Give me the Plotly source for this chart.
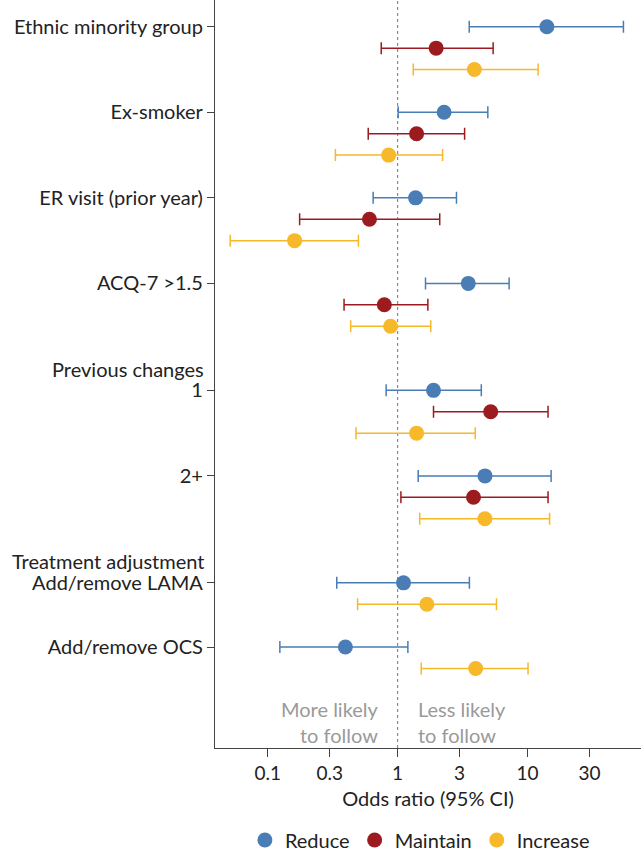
import plotly.graph_objects as go

# ---- data ----
row_labels = ["Ethnic minority group", "Ex-smoker", "ER visit (prior year)", "ACQ-7 >1.5",
              "1", "2+", "Add/remove LAMA", "Add/remove OCS"]
headings = {4: "Previous changes", 6: "Treatment adjustment"}

series_names = ["Reduce", "Maintain", "Increase"]
series_colors = ["#4a7cb6", "#9b1b1f", "#f7b82a"]

reduce_or    = [14.1, 2.28, 1.375, 3.50, 1.89, 4.71, 1.11, 0.396]
reduce_lo    = [3.56, 1.01, 0.648, 1.64, 0.816, 1.44, 0.34, 0.124]
reduce_hi    = [54.8, 4.95, 2.84, 7.22, 4.41, 15.2, 3.57, 1.20]

maintain_or  = [1.98, 1.40, 0.607, 0.79, 5.21, 3.84, None, None]
maintain_lo  = [0.748, 0.594, 0.176, 0.387, 1.89, 1.06, None, None]
maintain_hi  = [5.44, 3.28, 2.11, 1.71, 14.4, 14.4, None, None]

increase_or  = [3.90, 0.853, 0.161, 0.883, 1.40, 4.70, 1.68, 3.99]
increase_lo  = [1.32, 0.332, 0.0514, 0.435, 0.478, 1.48, 0.492, 1.52]
increase_hi  = [12.07, 2.22, 0.499, 1.80, 3.96, 14.8, 5.77, 10.1]

x_ticks = [0.1, 0.3, 1, 3, 10, 30]
x_ticktext = ["0.1", "0.3", "1", "3", "10", "30"]

all_or = [reduce_or, maintain_or, increase_or]
all_lo = [reduce_lo, maintain_lo, increase_lo]
all_hi = [reduce_hi, maintain_hi, increase_hi]

# ---- layout of rows (slots) ----
row_slot = []
heading_slot = {}
point_slot = [[None] * len(row_labels) for _ in series_names]
ptr = 0
for r, lab in enumerate(row_labels):
    if r in headings:
        heading_slot[r] = ptr
        ptr += 1
    row_slot.append(ptr)
    k = 0
    for s in range(len(series_names)):
        if all_or[s][r] is not None:
            point_slot[s][r] = ptr + k
            k += 1
    ptr += k + 1

FONT = "Lato"
FS = 20
TXT = "#222"
fig = go.Figure()
for s, name in enumerate(series_names):
    xs, ys, ep, em = [], [], [], []
    for r in range(len(row_labels)):
        v = all_or[s][r]
        if v is None:
            continue
        xs.append(v)
        ys.append(point_slot[s][r])
        ep.append(all_hi[s][r] - v)
        em.append(v - all_lo[s][r])
    fig.add_trace(go.Scatter(
        x=xs, y=ys, mode="markers", name=name,
        marker=dict(color=series_colors[s], size=15, line=dict(width=0)),
        error_x=dict(type="data", symmetric=False, array=ep, arrayminus=em,
                     color=series_colors[s], thickness=1.5, width=6),
    ))

fig.add_shape(type="line", xref="x", yref="paper", x0=1, x1=1, y0=0, y1=1,
              line=dict(color="#8c8c8c", width=1.2, dash="3px,3px"), layer="below")

for r, txt in headings.items():
    fig.add_annotation(text=txt, xref="paper", yref="y", x=0, y=heading_slot[r],
                       xanchor="right", yanchor="middle", xshift=-9, showarrow=False,
                       font=dict(family=FONT, size=FS, color=TXT))

fig.add_annotation(text="More likely<br>to follow", xref="x", yref="paper", x=0, y=0.035,
                   xanchor="right", yanchor="middle", xshift=-17, align="right",
                   showarrow=False, font=dict(family=FONT, size=FS, color="#9a9a9a"))
fig.add_annotation(text="Less likely<br>to follow", xref="x", yref="paper", x=0, y=0.035,
                   xanchor="left", yanchor="middle", xshift=18, align="left",
                   showarrow=False, font=dict(family=FONT, size=FS, color="#9a9a9a"))

fig.update_layout(
    width=641, height=853,
    margin=dict(l=215, r=0, t=0, b=105, autoexpand=False),
    plot_bgcolor="white", paper_bgcolor="white",
    font=dict(family=FONT, size=FS, color=TXT),
    showlegend=True,
    legend=dict(orientation="h", x=0.481, xanchor="center", y=-0.123, yanchor="middle",
                font=dict(family=FONT, size=FS, color=TXT), itemwidth=30,
                tracegroupgap=0),
    xaxis=dict(type="log", range=[-1.406, 1.874], tickvals=x_ticks, ticktext=x_ticktext,
               ticks="outside", ticklen=8, tickcolor="#444", showline=True, linecolor="#444",
               linewidth=1.2, showgrid=False, zeroline=False, automargin=False,
               tickfont=dict(family=FONT, size=19, color=TXT),
               title=dict(text="Odds ratio (95% CI)", standoff=9,
                          font=dict(family=FONT, size=FS, color=TXT))),
    yaxis=dict(range=[33.72, -1.25], tickvals=row_slot, ticktext=row_labels,
               ticks="outside", ticklen=7, tickcolor="#444", showline=True, linecolor="#444",
               linewidth=1.2, showgrid=False, zeroline=False, automargin=False,
               tickfont=dict(family=FONT, size=FS, color=TXT)),
)

fig.write_html("out.html", config={"displayModeBar": False},
               post_script="document.body.style.margin='0';document.body.style.overflow='hidden';")
